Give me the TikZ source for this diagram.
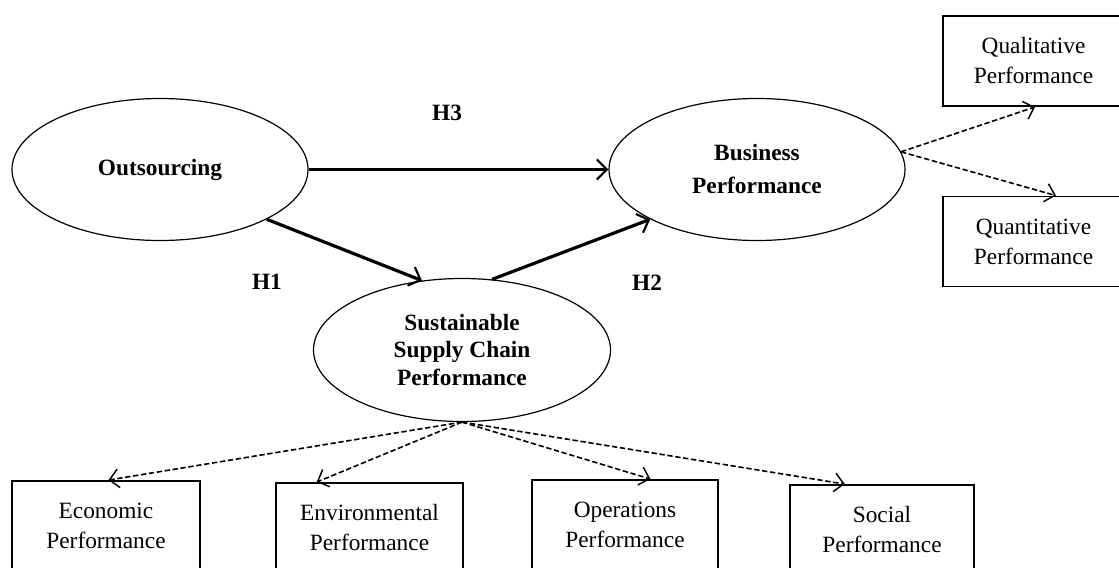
\documentclass[tikz,border=0pt]{standalone}
\usepackage{fontspec}
\setmainfont{Liberation Serif}
\usepackage{tikz}
\usetikzlibrary{shapes.geometric,arrows.meta}

\begin{document}
\begin{tikzpicture}[x=0.75pt,y=-0.75pt,
  latent/.style={ellipse, draw, line width=0.9pt, inner sep=0pt, minimum width=222pt, minimum height=106.5pt, align=center, font=\fontsize{17.5}{20.6}\selectfont\bfseries},
  indicator/.style={rectangle, draw, line width=1.4pt, inner sep=0pt, minimum height=67.5pt, align=center, font=\fontsize{17.5}{22.5}\selectfont},
  hyp/.style={line width=2.4pt, -{Straight Barb[length=7.5pt,width=15pt,line width=1.6pt]}},
  load/.style={dash pattern=on 4pt off 2pt, line width=1.2pt, -{Straight Barb[length=7pt,width=14pt,line width=1.1pt]}},
  hlabel/.style={font=\fontsize{17.5}{21}\selectfont\bfseries}]
% Modelo: outsourcing, cadena de suministro sostenible y desempeno
\clip (0,0) rectangle (1119,567);
\node[latent] (out) at (160,169.5) {Outsourcing};
\node[latent, font=\fontsize{17.5}{24.75}\selectfont\bfseries] (bus) at (757,169.5) {Business\\Performance};
\node[latent, minimum width=222.75pt, minimum height=107.25pt] (sscp) at (462,350) {Sustainable\\Supply Chain\\Performance};
\node[indicator, minimum width=135.75pt] (qual) at (1033.5,61) {Qualitative\\Performance};
\node[indicator, minimum width=135.75pt] (quan) at (1033.5,241.5) {Quantitative\\Performance};
\node[indicator, minimum width=141pt] (econ) at (106,526) {Economic\\Performance};
\node[indicator, minimum width=140.25pt] (env) at (369.5,528) {Environmental\\Performance};
\node[indicator, minimum width=139.5pt] (ops) at (625,525) {Operations\\Performance};
\node[indicator, minimum width=138pt] (soc) at (882,530) {Social\\Performance};
\draw[hyp] (out.east) -- (bus.west);
\draw[hyp] (out.-25) -- (sscp.120);
\draw[hyp] (sscp.67) -- (bus.-155);
\draw[load] (bus.7) -- (qual.-88);
\draw[load] (bus.7) -- (quan.64);
\draw[load] (sscp.south) -- (econ.87);
\draw[load] (sscp.south) -- (env.139);
\draw[load] (sscp.south) -- (ops.61);
\draw[load] (sscp.south) -- (soc.129);
\node[hlabel] (h3) at (447,113) {H3};
\node[hlabel] (h1) at (267,282) {H1};
\node[hlabel] (h2) at (647,283) {H2};
\end{tikzpicture}
\end{document}
